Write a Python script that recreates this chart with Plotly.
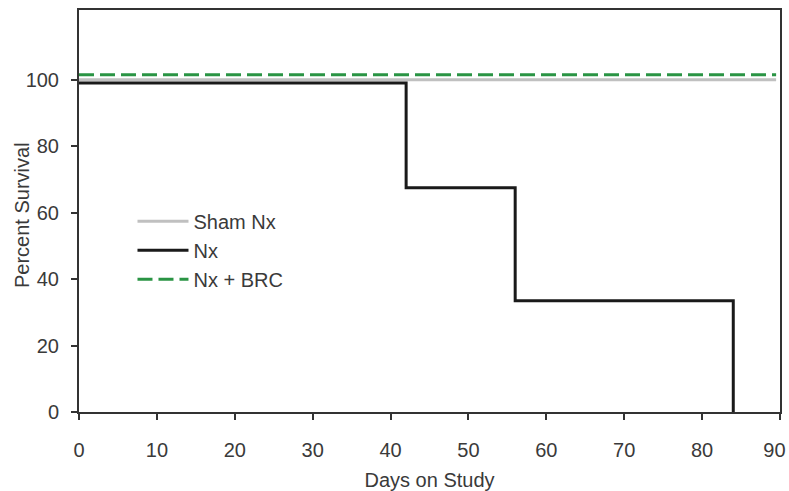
import plotly.graph_objects as go

# Data
sham_days = [0, 89.5]
sham_survival = [100, 100]

nx_days = [0, 42, 56, 84]
nx_survival = [99, 67.5, 33.5, 0]

brc_days = [0, 89.5]
brc_survival = [101.5, 101.5]

x_ticks = [0, 10, 20, 30, 40, 50, 60, 70, 80, 90]
x_tick_text = ["0", "10", "20", "30", "40", "50", "60", "70", "80", "90\u00a0\u00a0"]
y_ticks = [0, 20, 40, 60, 80, 100]

fig = go.Figure()
fig.add_trace(go.Scatter(x=sham_days, y=sham_survival, mode="lines", name="Sham Nx",
                         line=dict(color="#c0c0c0", width=3)))
fig.add_trace(go.Scatter(x=nx_days, y=nx_survival, mode="lines", name="Nx",
                         line=dict(color="#1a1a1a", width=3, shape="hv")))
fig.add_trace(go.Scatter(x=brc_days, y=brc_survival, mode="lines", name="Nx + BRC",
                         line=dict(color="#2a9444", width=3, dash="15px,6px")))

font_family = "Liberation Sans, Arial, sans-serif"
fig.update_layout(
    width=789, height=491,
    margin=dict(l=79, r=9, t=10, b=79),
    paper_bgcolor="white", plot_bgcolor="white",
    font=dict(family=font_family, size=20, color="#3a3a3a"),
    showlegend=True,
    legend=dict(x=0.0763, y=0.523, xanchor="left", yanchor="top",
                bgcolor="rgba(0,0,0,0)", font=dict(size=20, color="#3a3a3a"),
                itemwidth=51, tracegroupgap=0),
    annotations=[dict(text="Percent Survival", xref="paper", yref="paper",
                      x=-0.0813, y=0.49, xanchor="center", yanchor="middle",
                      textangle=-90, showarrow=False,
                      font=dict(size=20, color="#3a3a3a"))],
)
fig.update_xaxes(range=[0, 90], tickvals=x_ticks, ticktext=x_tick_text,
                 showgrid=False, zeroline=False,
                 showline=True, linecolor="#333333", linewidth=2, mirror=True,
                 ticks="outside", ticklen=6, tickwidth=2, tickcolor="#333333",
                 tickfont=dict(size=20), ticklabelstandoff=13, automargin=False,
                 ticklabeloverflow="allow",
                 title=dict(text="Days on Study", standoff=13, font=dict(size=20)))
fig.update_yaxes(range=[0, 121], tickvals=y_ticks, showgrid=False, zeroline=False,
                 showline=True, linecolor="#333333", linewidth=2, mirror=True,
                 ticks="outside", ticklen=6, tickwidth=2, tickcolor="#333333",
                 tickfont=dict(size=20), ticklabelstandoff=8, automargin=False)

fig.write_html("out.html", config={"displayModeBar": False},
               post_script="document.body.style.margin='0px';")
